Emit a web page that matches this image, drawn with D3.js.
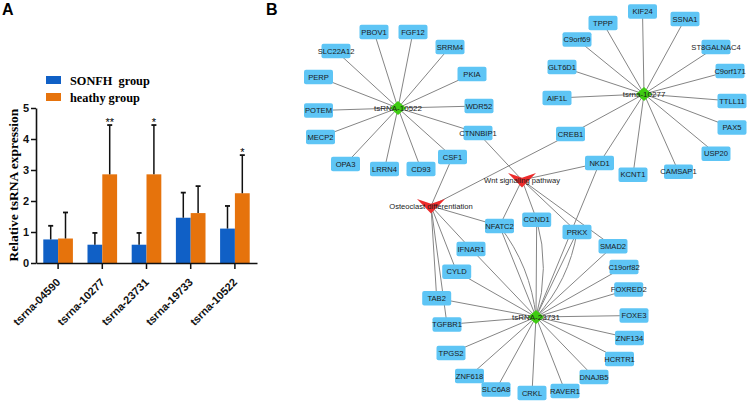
<!DOCTYPE html>
<html>
<head>
<meta charset="utf-8">
<script src="https://cdn.jsdelivr.net/npm/d3@7"></script>
<style>
  body { margin: 0; background: #fff; }
  svg { display: block; }
</style>
</head>
<body>
<div id="chart"></div>
<script>
// ---------- panel A data
var samples = ["tsrna-04590", "tsrna-10277", "tsrna-23731", "tsrna-19733", "tsrna-10522"];
var groups = ["SONFH  group", "heathy group"];
var sonfhMean = [0.76, 0.59, 0.59, 1.46, 1.11];
var sonfhErr = [0.44, 0.38, 0.38, 0.81, 0.73];
var healthyMean = [0.79, 2.86, 2.86, 1.61, 2.25];
var healthyErr = [0.84, 1.59, 1.59, 0.87, 1.23];
var stars = ["", "**", "*", "", "*"];
var yTicks = [0, 1, 2, 3, 4, 5];

// ---------- panel B data (tsRNA -> target genes, pathway -> genes)
var hubs = ["tsRNA-10522", "tsrna-10277", "tsRNA-23731"];
var pathways = ["Wnt signaling pathway", "Osteoclast differentiation"];
var targets10522 = ["PBOV1", "FGF12", "SLC22A12", "SRRM4", "PERP", "PKIA", "POTEM", "WDR52",
  "MECP2", "CTNNBIP1", "OPA3", "LRRN4", "CD93", "CSF1"];
var targets10277 = ["KIF24", "TPPP", "SSNA1", "C9orf69", "ST8GALNAC4", "GLT6D1", "C9orf171", "AIF1L",
  "TTLL11", "PAX5", "CREB1", "USP20", "NKD1", "KCNT1", "CAMSAP1"];
// repeated names = two interactions (drawn as curved duplicates)
var targets23731 = ["NFATC2", "NFATC2", "CCND1", "CCND1", "NKD1", "PRKX", "PRKX", "SMAD2", "C19orf82",
  "FOXRED2", "FOXE3", "ZNF134", "HCRTR1", "DNAJB5", "RAVER1", "CRKL", "SLC6A8", "ZNF618", "TPGS2",
  "TGFBR1", "TAB2", "CYLD", "IFNAR1"];
var wntGenes = ["CTNNBIP1", "NKD1", "NFATC2", "CCND1", "PRKX", "SMAD2"];
var osteoGenes = ["CSF1", "CREB1", "NFATC2", "IFNAR1", "CYLD", "TAB2", "TGFBR1"];

// network layout (node centres, px)
var layout = {
  "tsRNA-10522": [398, 108], "tsrna-10277": [644, 94], "tsRNA-23731": [536, 317],
  "Wnt signaling pathway": [522, 180], "Osteoclast differentiation": [431, 206],
  "PBOV1": [374, 32], "FGF12": [413, 32], "SLC22A12": [336, 51], "SRRM4": [450, 47],
  "PERP": [318.5, 77], "PKIA": [472, 74], "POTEM": [318.5, 110.5], "WDR52": [479, 106],
  "MECP2": [320.5, 137], "CTNNBIP1": [478, 133], "OPA3": [345.5, 164], "LRRN4": [384.5, 169],
  "CD93": [421, 169], "CSF1": [452.5, 157],
  "KIF24": [642.5, 11.5], "TPPP": [603, 23], "SSNA1": [685, 19], "C9orf69": [577, 39.5],
  "ST8GALNAC4": [716, 47], "GLT6D1": [562, 67], "C9orf171": [730, 71], "AIF1L": [557, 98],
  "TTLL11": [732, 101], "PAX5": [732, 127.5], "CREB1": [570.5, 134], "USP20": [716, 153.7],
  "NKD1": [599.5, 163], "KCNT1": [633, 174.7], "CAMSAP1": [678.5, 171.7],
  "NFATC2": [499.5, 226], "CCND1": [536.7, 219.7], "IFNAR1": [471, 249], "CYLD": [456.7, 271.7],
  "TAB2": [436.7, 298.3], "TGFBR1": [447, 324.5], "TPGS2": [451, 353], "ZNF618": [469.5, 376],
  "SLC6A8": [496, 389.5], "CRKL": [532, 393], "RAVER1": [565, 391], "DNAJB5": [594, 377],
  "HCRTR1": [619.5, 359], "ZNF134": [629.5, 338], "FOXE3": [634, 315.5], "FOXRED2": [628.7, 289.5],
  "C19orf82": [624, 267], "SMAD2": [613, 246.3], "PRKX": [577, 232]
};

var sans = "Arial, 'Liberation Sans', sans-serif";
var serif = "'Times New Roman', 'Liberation Serif', serif";

var svg = d3.select("#chart")
  .append("svg")
    .attr("width", 751)
    .attr("height", 402);

// panel letters
svg.append("text").attr("x", 2).attr("y", 14.5).text("A")
  .style("font-family", sans).style("font-weight", "bold").style("font-size", "16px");
svg.append("text").attr("x", 266).attr("y", 14.5).text("B")
  .style("font-family", sans).style("font-weight", "bold").style("font-size", "16px");

// ================= panel A: grouped bars
var x = d3.scaleBand()
  .domain(samples)
  .range([36, 257])
  .paddingInner(0.33)
  .paddingOuter(0.165);
var xSub = d3.scaleBand().domain(groups).range([0, x.bandwidth()]);
var y = d3.scaleLinear().domain([0, 5]).range([263, 108]);
var color = d3.scaleOrdinal().domain(groups).range(["#1060c6", "#e6730c"]);

var rows = [];
samples.forEach(function(s, i) {
  rows.push({sample: s, group: groups[0], value: sonfhMean[i], err: sonfhErr[i]});
  rows.push({sample: s, group: groups[1], value: healthyMean[i], err: healthyErr[i]});
});

var gA = svg.append("g");

gA.selectAll("rect.bar")
  .data(rows)
  .enter()
  .append("rect")
    .attr("class", "bar")
    .attr("x", function(d) { return x(d.sample) + xSub(d.group); })
    .attr("y", function(d) { return y(d.value); })
    .attr("width", xSub.bandwidth())
    .attr("height", function(d) { return y(0) - y(d.value); })
    .attr("fill", function(d) { return color(d.group); });

// error bars (upper only)
var eb = gA.selectAll("g.err")
  .data(rows)
  .enter()
  .append("g")
    .attr("class", "err")
    .attr("transform", function(d) {
      return "translate(" + (x(d.sample) + xSub(d.group) + xSub.bandwidth() / 2) + ",0)";
    });
eb.append("line")
  .attr("y1", function(d) { return y(d.value); })
  .attr("y2", function(d) { return y(d.value + d.err); })
  .attr("stroke", "#111").attr("stroke-width", 1.5);
eb.append("line")
  .attr("x1", -2.5).attr("x2", 2.5)
  .attr("y1", function(d) { return y(d.value + d.err); })
  .attr("y2", function(d) { return y(d.value + d.err); })
  .attr("stroke", "#111").attr("stroke-width", 1.8);

// significance stars over the healthy bars
gA.selectAll("text.star")
  .data(samples)
  .enter()
  .append("text")
    .attr("class", "star")
    .attr("x", function(d) { return x(d) + xSub(groups[1]) + xSub.bandwidth() / 2; })
    .attr("y", function(d, i) { return y(healthyMean[i] + healthyErr[i]) + 1; })
    .attr("text-anchor", "middle")
    .style("font-family", sans).style("font-size", "11px")
    .text(function(d, i) { return stars[i]; });

// axes
var yAxis = gA.append("g")
  .attr("transform", "translate(36,0)")
  .call(d3.axisLeft(y).tickValues(yTicks).tickFormat(d3.format("d"))
    .tickSize(5).tickSizeOuter(0).tickPadding(2));
var xAxis = gA.append("g")
  .attr("transform", "translate(0," + y(0) + ")")
  .call(d3.axisBottom(x).tickSize(6).tickSizeOuter(0));

[yAxis, xAxis].forEach(function(a) {
  a.select(".domain").attr("stroke", "#111").attr("stroke-width", 1.6);
  a.selectAll(".tick line").attr("stroke", "#111").attr("stroke-width", 1.5);
  a.selectAll("text")
    .style("font-family", sans).style("font-weight", "bold").style("font-size", "11px")
    .attr("fill", "#111");
});
xAxis.selectAll(".tick text")
  .attr("x", 0).attr("y", 0).attr("dy", 0)
  .attr("transform", "translate(3,20) rotate(-45)")
  .style("text-anchor", "end");

// y label
gA.append("text")
  .attr("transform", "translate(18,185) rotate(-90)")
  .attr("text-anchor", "middle")
  .style("font-family", serif).style("font-weight", "bold").style("font-size", "13.5px")
  .text("Relative tsRNA expression");

// legend
var leg = gA.selectAll("g.leg")
  .data(groups)
  .enter()
  .append("g")
    .attr("class", "leg")
    .attr("transform", function(d, i) { return "translate(46," + (76 + i * 17) + ")"; });
leg.append("rect").attr("width", 15).attr("height", 8).attr("fill", function(d) { return color(d); });
leg.append("text")
  .attr("x", 24).attr("y", 8.5)
  .style("font-family", serif).style("font-weight", "bold").style("font-size", "12.3px")
  .style("white-space", "pre")
  .text(function(d) { return d; });

// ================= panel B: network
var nx = d3.scaleIdentity();
var ny = d3.scaleIdentity();

var edges = [];
function addEdges(src, list) {
  var seen = {};
  list.forEach(function(t) {
    seen[t] = (seen[t] || 0) + 1;
    edges.push({source: src, target: t, k: seen[t] - 1});
  });
}
addEdges(hubs[0], targets10522);
addEdges(hubs[1], targets10277);
addEdges(hubs[2], targets23731);
addEdges(pathways[0], wntGenes);
addEdges(pathways[1], osteoGenes);

var genes = [];
[targets10522, targets10277, targets23731].forEach(function(l) {
  l.forEach(function(g) { if (genes.indexOf(g) < 0) genes.push(g); });
});

var gB = svg.append("g");

gB.selectAll("path.edge")
  .data(edges)
  .enter()
  .append("path")
    .attr("class", "edge")
    .attr("d", function(d) {
      var a = layout[d.source], b = layout[d.target];
      var x1 = nx(a[0]), y1 = ny(a[1]), x2 = nx(b[0]), y2 = ny(b[1]);
      if (d.k === 0) return "M" + x1 + "," + y1 + "L" + x2 + "," + y2;
      var mx = (x1 + x2) / 2, my = (y1 + y2) / 2;
      var dx = x2 - x1, dy = y2 - y1, len = Math.sqrt(dx * dx + dy * dy);
      var off = 14;
      var cx = mx - dy / len * off, cy = my + dx / len * off;
      return "M" + x1 + "," + y1 + "Q" + cx + "," + cy + " " + x2 + "," + y2;
    })
    .attr("fill", "none")
    .attr("stroke", "#858585")
    .attr("stroke-width", 1);

// gene boxes
var bw = 29, bh = 14.5;
var geneG = gB.selectAll("g.gene")
  .data(genes)
  .enter()
  .append("g")
    .attr("class", "gene")
    .attr("transform", function(d) { return "translate(" + nx(layout[d][0]) + "," + ny(layout[d][1]) + ")"; });
geneG.append("rect")
  .attr("x", -bw / 2).attr("y", -bh / 2)
  .attr("width", bw).attr("height", bh)
  .attr("rx", 2)
  .attr("fill", "#5ec5f5");
geneG.append("text")
  .attr("text-anchor", "middle")
  .attr("y", 2.7)
  .style("font-family", sans).style("font-size", "7.6px")
  .attr("fill", "#1a1a1a")
  .text(function(d) { return d; });

// hubs: green diamonds
var hubG = gB.selectAll("g.hub")
  .data(hubs)
  .enter()
  .append("g")
    .attr("class", "hub")
    .attr("transform", function(d) { return "translate(" + nx(layout[d][0]) + "," + ny(layout[d][1]) + ")"; });
hubG.append("path")
  .attr("d", "M0,-7L8,0L0,7L-8,0Z")
  .attr("fill", "#3fcc12");
hubG.append("text")
  .attr("text-anchor", "middle")
  .attr("y", 3)
  .style("font-family", sans).style("font-size", "8px")
  .attr("fill", "#1a1a1a")
  .text(function(d) { return d; });

// pathways: red vee shapes
var pwG = gB.selectAll("g.pw")
  .data(pathways)
  .enter()
  .append("g")
    .attr("class", "pw")
    .attr("transform", function(d) { return "translate(" + nx(layout[d][0]) + "," + ny(layout[d][1]) + ")"; });
pwG.append("path")
  .attr("d", "M-14,-7L0,-2.3L14,-7L0,7.5Z")
  .attr("fill", "#ec2b2b");
pwG.append("text")
  .attr("text-anchor", "middle")
  .attr("y", 3.3)
  .style("font-family", sans).style("font-size", "7.6px")
  .attr("fill", "#1a1a1a")
  .text(function(d) { return d; });
</script>
</body>
</html>
